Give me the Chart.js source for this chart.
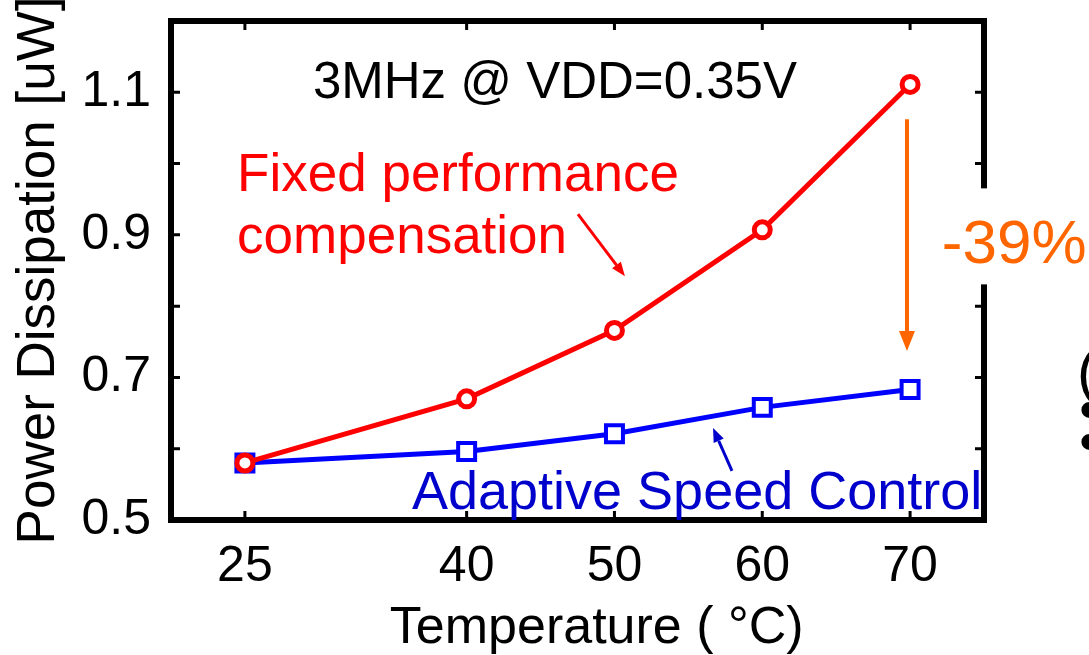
<!DOCTYPE html>
<html>
<head>
<meta charset="utf-8">
<script src="https://cdn.jsdelivr.net/npm/chart.js@4.4.1/dist/chart.umd.min.js"></script>
<style>
  body { margin: 0; background: #fff; }
  #wrap { width: 1089px; height: 655px; }
</style>
</head>
<body>
<div id="wrap"><canvas id="powerChart"></canvas></div>
<script>
const FONT = '"Liberation Sans", Arial, sans-serif';

// data
const temps = [25, 40, 50, 60, 70];
const fixedPerf = [0.58, 0.67, 0.766, 0.907, 1.111];
const adaptive = [0.58, 0.596, 0.621, 0.658, 0.683];
const xTickValues = [25, 40, 50, 60, 70];
const yLabelValues = [0.5, 0.7, 0.9, 1.1];

function arrow(ctx, x1, y1, x2, y2, color, lw, headLen, headW) {
    const ang = Math.atan2(y2 - y1, x2 - x1);
    const bx = x2 - headLen * Math.cos(ang), by = y2 - headLen * Math.sin(ang);
    ctx.strokeStyle = color;
    ctx.fillStyle = color;
    ctx.lineWidth = lw;
    ctx.beginPath();
    ctx.moveTo(x1, y1);
    ctx.lineTo(bx, by);
    ctx.stroke();
    ctx.beginPath();
    ctx.moveTo(x2, y2);
    ctx.lineTo(bx + headW / 2 * Math.sin(ang), by - headW / 2 * Math.cos(ang));
    ctx.lineTo(bx - headW / 2 * Math.sin(ang), by + headW / 2 * Math.cos(ang));
    ctx.closePath();
    ctx.fill();
}

// frame, inward ticks and the text notes
const annotations = {
    id: 'annotations',
    afterDraw(chart) {
        const ctx = chart.ctx, xs = chart.scales.x, ys = chart.scales.y, a = chart.chartArea;
        const X = v => xs.getPixelForValue(v), Y = v => ys.getPixelForValue(v);
        ctx.save();

        ctx.strokeStyle = '#000';
        ctx.lineWidth = 6;
        ctx.strokeRect(a.left, a.top, a.right - a.left, a.bottom - a.top);
        ctx.lineWidth = 3;
        ctx.beginPath();
        xs.ticks.forEach(t => {
            const p = X(t.value);
            ctx.moveTo(p, a.bottom); ctx.lineTo(p, a.bottom - 9);
            ctx.moveTo(p, a.top); ctx.lineTo(p, a.top + 9);
        });
        ys.ticks.forEach(t => {
            const p = Y(t.value);
            ctx.moveTo(a.left, p); ctx.lineTo(a.left + 9, p);
            ctx.moveTo(a.right, p); ctx.lineTo(a.right - 9, p);
        });
        ctx.stroke();

        ctx.textBaseline = 'alphabetic';
        ctx.textAlign = 'left';

        ctx.fillStyle = '#000';
        ctx.font = '51px ' + FONT;
        ctx.fillText('3MHz @ VDD=0.35V', X(29.6), Y(1.092));

        ctx.fillStyle = '#ff0000';
        ctx.font = '53px ' + FONT;
        ctx.fillText('Fixed performance', X(24.47), Y(0.961));
        ctx.fillText('compensation', X(24.47), Y(0.874));
        arrow(ctx, X(47.53), Y(0.929), X(50.71), Y(0.842), '#ff0000', 3, 14, 11);

        ctx.fillStyle = '#0000cc';
        ctx.font = '54px ' + FONT;
        ctx.fillText('Adaptive Speed Control', X(36.3), Y(0.515));
        arrow(ctx, X(57.95), Y(0.569), X(56.67), Y(0.629), '#0000cc', 3, 14, 11);

        arrow(ctx, X(69.79), Y(1.062), X(69.79), Y(0.737), '#ff6600', 4, 20, 16);

        // "-39%" sits on a white box that cuts the right frame
        const tx = X(72.15), ty = Y(0.86);
        ctx.fillStyle = '#fff';
        ctx.fillRect(tx - 6, ty - 75, chart.width - tx + 6, 96);
        ctx.fillStyle = '#ff6600';
        ctx.font = '62px ' + FONT;
        ctx.fillText('-39%', tx, ty);

        ctx.fillStyle = '#000';
        ctx.font = '52px ' + FONT;
        ctx.textAlign = 'center';
        ctx.fillText('Temperature ( °C)', X(48.8), a.bottom + 123);

        // clipped text from the neighbouring slide column
        ctx.textAlign = 'left';
        ctx.font = '60px ' + FONT;
        ctx.fillText('(', chart.width - 12, 392);
        ctx.fillText('•', chart.width - 10, 430);
        ctx.fillText('•', chart.width - 10, 462);

        ctx.restore();
    }
};

const ctx = document.getElementById('powerChart').getContext('2d');
const powerChart = new Chart(ctx, {
    type: 'line',
    data: {
        datasets: [{
            label: 'Fixed performance compensation',
            data: temps.map((t, i) => ({ x: t, y: fixedPerf[i] })),
            borderColor: '#ff0000',
            backgroundColor: '#ffffff',
            borderWidth: 5,
            pointStyle: 'circle',
            pointRadius: 8,
            pointBorderWidth: 5,
            tension: 0
        }, {
            label: 'Adaptive Speed Control',
            data: temps.map((t, i) => ({ x: t, y: adaptive[i] })),
            borderColor: '#0000ff',
            backgroundColor: '#ffffff',
            borderWidth: 5,
            pointStyle: 'rect',
            pointRadius: 12,
            pointBorderWidth: 4,
            tension: 0
        }]
    },
    options: {
        responsive: true,
        maintainAspectRatio: false,
        animation: false,
        layout: { padding: { top: 21, right: 105, left: 0, bottom: 0 } },
        plugins: { legend: { display: false }, tooltip: { enabled: false } },
        scales: {
            x: {
                type: 'linear',
                min: 20,
                max: 75,
                afterBuildTicks: s => { s.ticks = xTickValues.map(v => ({ value: v })); },
                afterFit: s => { s.height = 135; s.paddingLeft = 0; s.paddingRight = 0; },
                grid: { display: false, drawTicks: false },
                border: { display: false },
                ticks: {
                    color: '#000',
                    font: { family: FONT, size: 50 },
                    padding: 17,
                    maxRotation: 0,
                    callback: v => String(v)
                }
            },
            y: {
                min: 0.5,
                max: 1.2,
                afterFit: s => { s.width = 171; s.paddingTop = 0; s.paddingBottom = 0; },
                grid: { display: false, drawTicks: false },
                border: { display: false },
                ticks: {
                    stepSize: 0.1,
                    color: '#000',
                    font: { family: FONT, size: 50 },
                    padding: 20,
                    callback: v => yLabelValues.some(l => Math.abs(l - v) < 1e-6) ? v.toFixed(1) : ''
                },
                title: {
                    display: true,
                    text: 'Power Dissipation [uW]',
                    color: '#000',
                    font: { family: FONT, size: 53 },
                    padding: { top: 8, bottom: 0 }
                }
            }
        }
    },
    plugins: [annotations]
});
</script>
</body>
</html>
